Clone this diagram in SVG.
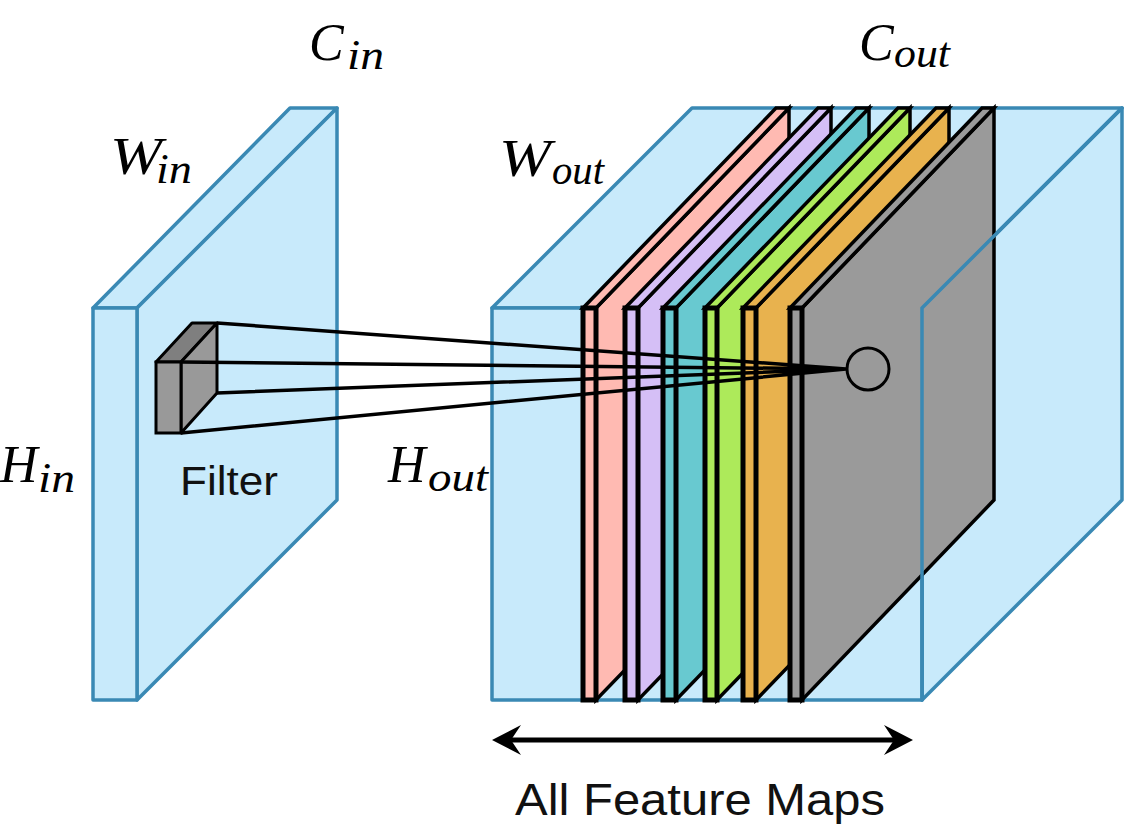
<svg xmlns="http://www.w3.org/2000/svg" width="1137" height="832" viewBox="0 0 1137 832">
<style>
.box{fill:#c8eafb;stroke:#3a89b4;stroke-width:3.5;stroke-linejoin:round}
.edge{fill:none;stroke:#3a89b4;stroke-width:3.5;stroke-linecap:round}
.sl{stroke:#000;stroke-width:3.5;stroke-linejoin:miter}
.strip{stroke:#000;stroke-width:5}
.ray{stroke:#000;stroke-width:3.5;fill:none}
.math{font-family:"Liberation Serif","DejaVu Serif",serif;font-style:italic;fill:#000;font-size:52px}
.sub{font-family:"Liberation Serif","DejaVu Serif",serif;font-style:italic;fill:#000;font-size:42px}
.lbl{font-family:"Liberation Sans","Open Sans",sans-serif;fill:#111}
</style>
<rect width="1137" height="832" fill="#fff"/>

<g id="input-volume">
  <polygon class="box" points="93,308 290,108 337,108 137,308"/>
  <polygon class="box" points="137,308 337,108 337,500 137,700"/>
  <rect class="box" x="93" y="308" width="44" height="392"/>
</g>

<g id="filter">
  <polygon fill="#7f7f7f" stroke="#000" stroke-width="3" stroke-linejoin="round" points="156,362 192,323 217,323 181,362"/>
  <polygon fill="#999" stroke="#000" stroke-width="3" stroke-linejoin="round" points="181,362 217,323 217,393 181,433"/>
  <rect x="156" y="362" width="25" height="71" fill="#999" stroke="#000" stroke-width="3"/>
</g>

<g id="output-volume">
  <polygon class="box" points="492,308 692,108 1122,108 922,308"/>
  <polygon class="box" points="922,308 1122,108 1122,500 922,700"/>
  <rect class="box" x="492" y="308" width="430" height="392"/>
</g>

<g id="feature-maps">
  <g id="map-pink" fill="#ffbab2">
    <polygon class="sl" points="596,308 789,108 789,500 596,700"/>
    <polygon class="sl" points="583,308 776,108 789,108 596,308"/>
    <rect class="strip" x="583" y="308" width="13" height="392"/>
  </g>
  <g id="map-lavender" fill="#d5bff6">
    <polygon class="sl" points="638,308 831,108 831,500 638,700"/>
    <polygon class="sl" points="625,308 818,108 831,108 638,308"/>
    <rect class="strip" x="625" y="308" width="13" height="392"/>
  </g>
  <g id="map-teal" fill="#68c9d0">
    <polygon class="sl" points="676,308 869,108 869,500 676,700"/>
    <polygon class="sl" points="663,308 856,108 869,108 676,308"/>
    <rect class="strip" x="663" y="308" width="13" height="392"/>
  </g>
  <g id="map-green" fill="#adea5a">
    <polygon class="sl" points="717,308 910,108 910,500 717,700"/>
    <polygon class="sl" points="705,308 898,108 910,108 717,308"/>
    <rect class="strip" x="705" y="308" width="12" height="392"/>
  </g>
  <g id="map-orange" fill="#e8b24e">
    <polygon class="sl" points="756,308 949,108 949,500 756,700"/>
    <polygon class="sl" points="743,308 936,108 949,108 756,308"/>
    <rect class="strip" x="743" y="308" width="13" height="392"/>
  </g>
  <g id="map-gray" fill="#9a9a9a">
    <polygon class="sl" points="802,308 994,108 994,500 802,700"/>
    <polygon class="sl" points="790,308 982,108 994,108 802,308"/>
    <rect class="strip" x="790" y="308" width="12" height="392"/>
  </g>
</g>

<g id="output-volume-edges">
  <path class="edge" d="M922,308 L922,700 M922,308 L1122,108"/>
</g>

<g id="connectors">
  <path class="ray" d="M217,323 L846,369 M181,362 L846,369 M217,393 L846,369 M181,433 L846,369"/>
  <circle cx="868" cy="369" r="21" fill="none" stroke="#000" stroke-width="3"/>
  <line x1="505" y1="740" x2="900" y2="740" stroke="#000" stroke-width="5"/>
  <path d="M492,740 L521,725 L511,740 L521,755 Z" fill="#000"/>
  <path d="M913,740 L884,725 L894,740 L884,755 Z" fill="#000"/>
</g>

<g id="labels">
  <text class="math" x="309" y="60">C</text>
  <text class="sub" x="347" y="69" textLength="37" lengthAdjust="spacingAndGlyphs">in</text>
  <text class="math" x="110" y="174" textLength="52" lengthAdjust="spacingAndGlyphs">W</text>
  <text class="sub" x="156" y="183" textLength="36" lengthAdjust="spacingAndGlyphs">in</text>
  <text class="math" x="499" y="176" textLength="52" lengthAdjust="spacingAndGlyphs">W</text>
  <text class="sub" x="552" y="184" textLength="52" lengthAdjust="spacingAndGlyphs">out</text>
  <text class="math" x="859" y="60">C</text>
  <text class="sub" x="894" y="67" textLength="56" lengthAdjust="spacingAndGlyphs">out</text>
  <text class="math" x="0" y="482">H</text>
  <text class="sub" x="38" y="492" textLength="37" lengthAdjust="spacingAndGlyphs">in</text>
  <text class="math" x="388" y="482">H</text>
  <text class="sub" x="428" y="491" textLength="60" lengthAdjust="spacingAndGlyphs">out</text>
  <text class="lbl" x="180" y="495" font-size="40" textLength="98" lengthAdjust="spacingAndGlyphs">Filter</text>
  <text class="lbl" x="515" y="815" font-size="45" textLength="370" lengthAdjust="spacingAndGlyphs">All Feature Maps</text>
</g>
</svg>
